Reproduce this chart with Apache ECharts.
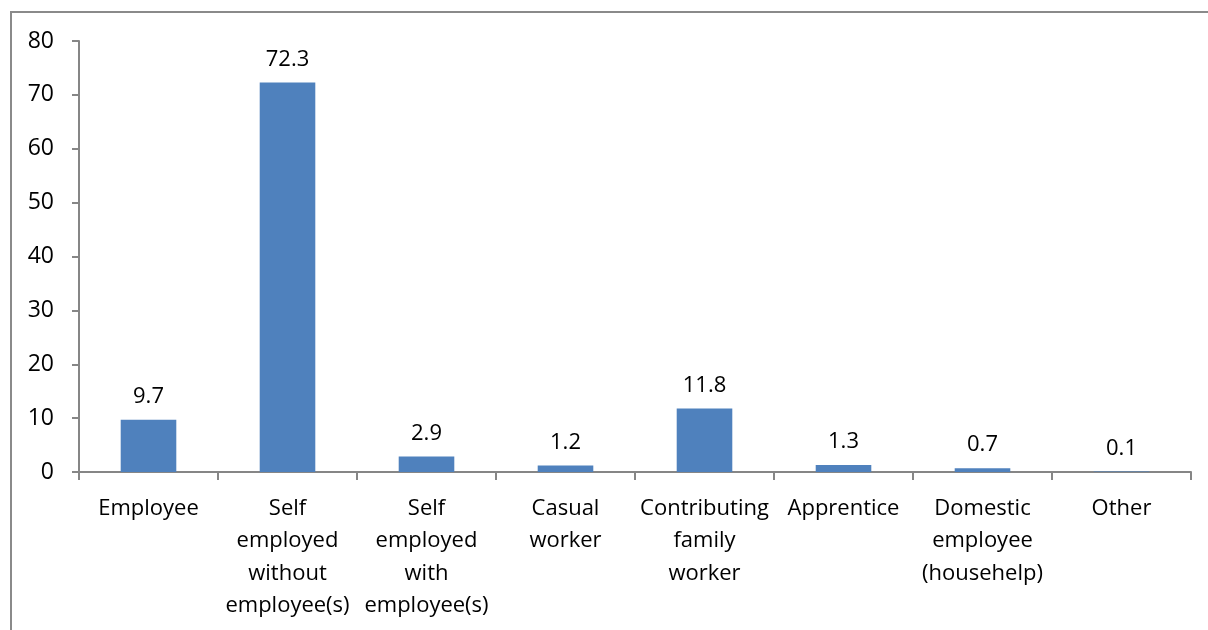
<!DOCTYPE html>
<html>
<head>
<meta charset="utf-8">
<script src="https://cdn.jsdelivr.net/npm/echarts@6/dist/echarts.min.js"></script>
<style>
  html, body { margin: 0; padding: 0; background: #fff; }
  #chart { width: 1208px; height: 630px; }
</style>
</head>
<body>
<div id="chart"></div>
<script>
var categories = [
  'Employee',
  'Self\nemployed\nwithout\nemployee(s)',
  'Self\nemployed\nwith\nemployee(s)',
  'Casual\nworker',
  'Contributing\nfamily\nworker',
  'Apprentice',
  'Domestic\nemployee\n(househelp)',
  'Other'
];
var shares = [9.7, 72.3, 2.9, 1.2, 11.8, 1.3, 0.7, 0.1];
var yMin = 0, yMax = 80, yStep = 10;

var fontName = '"Open Sans", sans-serif';
var axisGray = '#868686';

var myChart = echarts.init(document.getElementById('chart'));
var option = {
  animation: false,
  backgroundColor: '#fff',
  textStyle: { fontFamily: fontName },
  // outer frame: only left and top edges fall inside the picture
  graphic: [{
    type: 'polyline',
    shape: { points: [[11, 640], [11, 12], [1220, 12]] },
    style: { fill: 'none', stroke: '#8a8a8a', lineWidth: 2 },
    silent: true
  }],
  grid: { left: 79, right: 17, top: 41, bottom: 158, containLabel: false },
  xAxis: {
    type: 'category',
    data: categories,
    axisLine: { show: true, lineStyle: { color: axisGray, width: 2 } },
    axisTick: { show: true, alignWithLabel: false, length: 8, lineStyle: { color: axisGray, width: 2 } },
    axisLabel: {
      interval: 0,
      color: '#000',
      fontSize: 22,
      lineHeight: 32.5,
      margin: 20,
      fontFamily: fontName
    }
  },
  yAxis: {
    type: 'value',
    min: yMin, max: yMax, interval: yStep,
    splitLine: { show: false },
    axisLine: { show: true, lineStyle: { color: axisGray, width: 2 } },
    axisTick: { show: true, length: 7, lineStyle: { color: axisGray, width: 2 } },
    axisLabel: { color: '#000', fontSize: 23, margin: 25, fontFamily: fontName }
  },
  series: [{
    type: 'bar',
    data: shares,
    barWidth: '40%',
    itemStyle: { color: '#4F81BD' },
    label: {
      show: true,
      position: 'top',
      distance: 12,
      color: '#000',
      fontSize: 22,
      fontFamily: fontName
    }
  }]
};
myChart.setOption(option);
</script>
</body>
</html>
